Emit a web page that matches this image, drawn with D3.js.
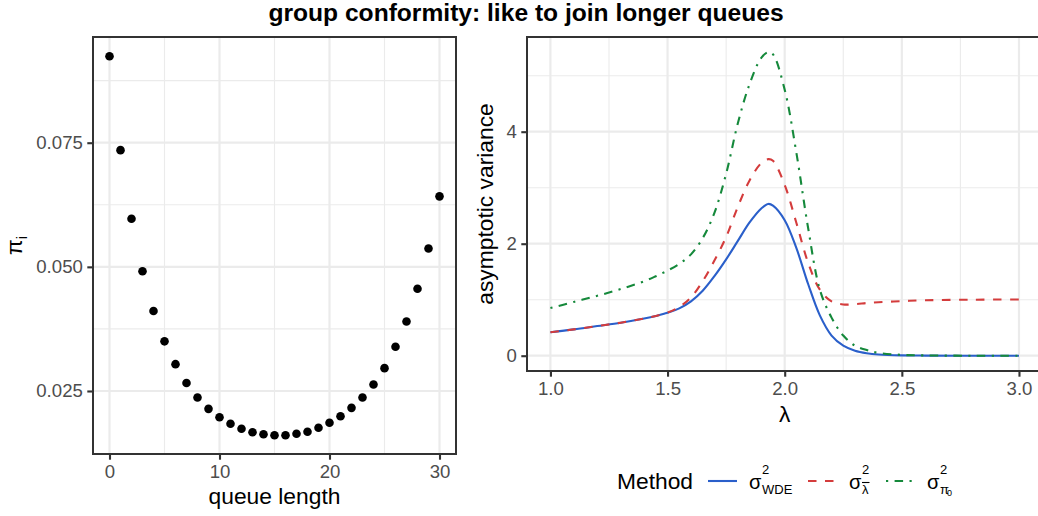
<!DOCTYPE html>
<html><head><meta charset="utf-8">
<script src="https://cdn.jsdelivr.net/npm/d3@7"></script>
<style>
body{margin:0;background:#fff;}
svg{display:block;font-family:"Liberation Sans",Arial,Helvetica,sans-serif;}
</style></head>
<body><svg id="chart" width="1038" height="516"></svg>
<script>
// ---------- data ----------
const queueLength = [0,1,2,3,4,5,6,7,8,9,10,11,12,13,14,15,16,17,18,19,20,21,22,23,24,25,26,27,28,29,30];
const piValues = [0.0924,0.0735,0.0597,0.0491,0.0411,0.0350,0.0304,0.0266,0.0237,0.0214,0.0197,0.0184,0.0174,0.0167,0.0163,0.0161,0.0161,0.0164,0.0168,0.0176,0.0186,0.0199,0.0216,0.0237,0.0263,0.0296,0.0339,0.0390,0.0456,0.0537,0.0642];

const lambdaVals = [1.0,1.1,1.2,1.3,1.4,1.45,1.5,1.55,1.6,1.65,1.7,1.75,1.8,1.85,1.9,1.93,1.95,2.0,2.05,2.1,2.15,2.2,2.25,2.3,2.35,2.4,2.5,2.6,2.8,3.0];
const varWDE = [0.42,0.47,0.53,0.59,0.665,0.71,0.765,0.845,0.97,1.16,1.42,1.72,2.05,2.38,2.63,2.71,2.68,2.42,1.92,1.28,0.72,0.36,0.18,0.09,0.045,0.022,0.006,0.002,0,0];
const varLambda = [0.42,0.47,0.53,0.59,0.665,0.71,0.77,0.87,1.04,1.33,1.70,2.12,2.66,3.13,3.44,3.51,3.48,3.05,2.37,1.66,1.18,0.97,0.915,0.92,0.94,0.955,0.975,0.99,1.0,1.005];
const varPi0 = [0.85,0.96,1.07,1.19,1.33,1.42,1.52,1.64,1.81,2.10,2.55,3.25,4.15,4.85,5.32,5.42,5.38,4.75,3.62,2.28,1.18,0.68,0.36,0.18,0.10,0.05,0.015,0.005,0,0];

const leftXTicks = [0,10,20,30];
const leftYTicks = [0.025,0.050,0.075];
const rightXTicks = [1.0,1.5,2.0,2.5,3.0];
const rightYTicks = [0,2,4];
const methods = ["WDE","lambda","pi0"];
const methodColors = ["#2a5fca","#d43c3c","#15893b"];
const methodDash = [null,"8.5,8.5","2.2,6.4,8.5,6.4"];

// ---------- setup ----------
const svg = d3.select("#chart");
svg.append("rect").attr("width",1038).attr("height",516).attr("fill","#fff");
const gridCol = "#EBEBEB", borderCol = "#333333", tickTxt = "#4D4D4D";
const tickFont = 18.6, titleFont = 22.8;

svg.append("text").attr("x",526).attr("y",21).attr("text-anchor","middle")
  .attr("font-size",24.6).attr("font-weight","bold").attr("fill","#000")
  .text("group conformity: like to join longer queues");

function panel(opts){
  const {x, y, xTicks, yTicks, xMinor, yMinor, xFmt, yFmt, L, R, T, B} = opts;
  const g = svg.append("g");
  xMinor.forEach(v=>g.append("line").attr("x1",x(v)).attr("x2",x(v)).attr("y1",T).attr("y2",B).attr("stroke",gridCol).attr("stroke-width",1.1));
  yMinor.forEach(v=>g.append("line").attr("y1",y(v)).attr("y2",y(v)).attr("x1",L).attr("x2",R).attr("stroke",gridCol).attr("stroke-width",1.1));
  xTicks.forEach(v=>g.append("line").attr("x1",x(v)).attr("x2",x(v)).attr("y1",T).attr("y2",B).attr("stroke",gridCol).attr("stroke-width",2.2));
  yTicks.forEach(v=>g.append("line").attr("y1",y(v)).attr("y2",y(v)).attr("x1",L).attr("x2",R).attr("stroke",gridCol).attr("stroke-width",2.2));
  const xa = svg.append("g").attr("transform",`translate(0,${B})`)
    .call(d3.axisBottom(x).tickValues(xTicks).tickFormat(xFmt).tickSize(5.7).tickPadding(4.5));
  const ya = svg.append("g").attr("transform",`translate(${L},0)`)
    .call(d3.axisLeft(y).tickValues(yTicks).tickFormat(yFmt).tickSize(5.7).tickPadding(4.5));
  [xa,ya].forEach(a=>{
    a.select(".domain").remove();
    a.selectAll(".tick line").attr("stroke",borderCol).attr("stroke-width",2.1);
    a.selectAll(".tick text").attr("fill",tickTxt).attr("font-size",tickFont)
      .attr("font-family","Liberation Sans, Arial, sans-serif");
  });
  xa.selectAll(".tick text").attr("dy","0.76em");
  return g;
}

// ---------- left panel ----------
const lL=93, lR=456, lT=37, lB=454;
const xL = d3.scaleLinear().domain([-1.5,31.5]).range([lL,lR]);
const yL = d3.scaleLinear().domain([0.01231,0.09629]).range([lB,lT]);
panel({x:xL,y:yL,xTicks:leftXTicks,yTicks:leftYTicks,xMinor:[5,15,25],yMinor:[0.0375,0.0625,0.0875],
  xFmt:d3.format("d"),yFmt:d3.format(".3f"),L:lL,R:lR,T:lT,B:lB});
svg.append("g").selectAll("circle").data(queueLength).join("circle")
  .attr("cx",d=>xL(d)).attr("cy",(d,i)=>yL(piValues[i])).attr("r",4.3).attr("fill","#000");
svg.append("rect").attr("x",lL).attr("y",lT).attr("width",lR-lL).attr("height",lB-lT)
  .attr("fill","none").attr("stroke",borderCol).attr("stroke-width",2);
svg.append("text").attr("x",(lL+lR)/2).attr("y",504).attr("text-anchor","middle")
  .attr("font-size",titleFont).attr("fill","#000").text("queue length");
const piLab = svg.append("text").attr("transform",`translate(22,${(lT+lB)/2}) rotate(-90)`)
  .attr("text-anchor","middle").attr("font-size",titleFont).attr("fill","#000");
piLab.append("tspan").text("π");
piLab.append("tspan").attr("font-size",15).attr("dy",5).text("i");

// ---------- right panel ----------
const rL=527, rR=1042.4, rT=37, rB=371;
const xR = d3.scaleLinear().domain([0.9,3.1]).range([rL,rR]);
const yR = d3.scaleLinear().domain([-0.273,5.691]).range([rB,rT]);
panel({x:xR,y:yR,xTicks:rightXTicks,yTicks:rightYTicks,xMinor:[1.25,1.75,2.25,2.75],yMinor:[1,3,5],
  xFmt:d3.format(".1f"),yFmt:d3.format("d"),L:rL,R:rR,T:rT,B:rB});
const seriesVals = [varWDE,varLambda,varPi0];
const line = d3.line().x(d=>xR(d[0])).y(d=>yR(d[1])).curve(d3.curveCatmullRom.alpha(0.5));
seriesVals.forEach((vals,k)=>{
  const pts = lambdaVals.map((l,i)=>[l,vals[i]]);
  svg.append("path").attr("d",line(pts)).attr("fill","none")
    .attr("stroke",methodColors[k]).attr("stroke-width",2.1)
    .attr("stroke-dasharray",methodDash[k]);
});
svg.append("rect").attr("x",rL).attr("y",rT).attr("width",rR-rL).attr("height",rB-rT)
  .attr("fill","none").attr("stroke",borderCol).attr("stroke-width",2);
svg.append("text").attr("x",xR(2.0)).attr("y",422).attr("text-anchor","middle")
  .attr("font-size",titleFont).attr("fill","#000").text("λ");
svg.append("text").attr("transform",`translate(493,${(rT+rB)/2}) rotate(-90)`)
  .attr("text-anchor","middle").attr("font-size",titleFont).attr("fill","#000").text("asymptotic variance");

// ---------- legend ----------
const legY = 481;
svg.append("text").attr("x",617).attr("y",489).attr("font-size",titleFont).attr("fill","#000").text("Method");
const keyX = [708,808,886];
const labX = [749,849,927];
keyX.forEach((kx,k)=>{
  svg.append("line").attr("x1",kx).attr("x2",kx+29).attr("y1",legY).attr("y2",legY)
    .attr("stroke",methodColors[k]).attr("stroke-width",2.1).attr("stroke-dasharray",methodDash[k]);
});
function sigmaLabel(x){
  const g = svg.append("g");
  g.append("text").attr("x",x).attr("y",489).attr("font-size",20).attr("fill","#000").text("σ");
  g.append("text").attr("x",x+13).attr("y",474).attr("font-size",13).attr("fill","#000").text("2");
  return g;
}
const g1 = sigmaLabel(labX[0]);
g1.append("text").attr("x",labX[0]+13).attr("y",494).attr("font-size",13).attr("fill","#000").text("WDE");
const g2 = sigmaLabel(labX[1]);
g2.append("text").attr("x",labX[1]+13).attr("y",494).attr("font-size",13).attr("fill","#000").text("λ");
g2.append("line").attr("x1",labX[1]+13).attr("x2",labX[1]+20.5).attr("y1",482.5).attr("y2",482.5).attr("stroke","#000").attr("stroke-width",1.1);
const g3 = sigmaLabel(labX[2]);
g3.append("text").attr("x",labX[2]+13).attr("y",494).attr("font-size",13).attr("fill","#000").text("π");
g3.append("text").attr("x",labX[2]+20).attr("y",496).attr("font-size",9).attr("fill","#000").text("0");
</script></body></html>
